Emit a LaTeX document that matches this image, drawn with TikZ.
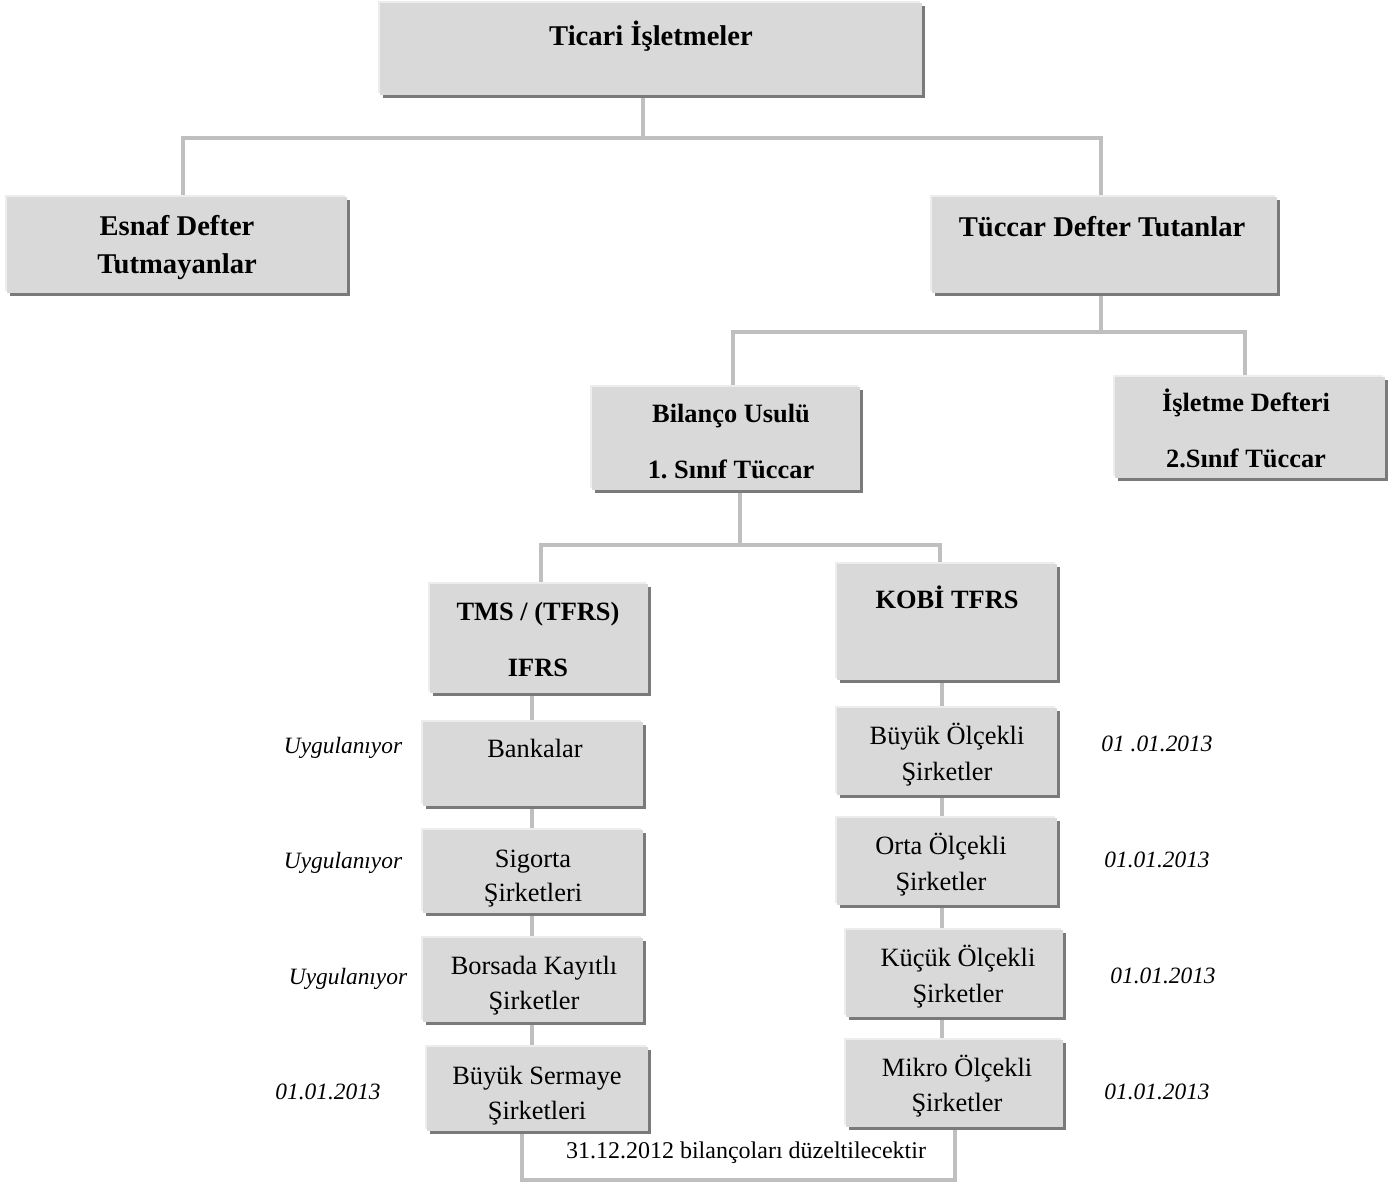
\documentclass[tikz,border=0pt]{standalone}
\usepackage{fontspec}
\setmainfont{Liberation Serif}
\usetikzlibrary{fit,shadows,backgrounds}
\frenchspacing

\definecolor{boxfill}{HTML}{D9D9D9}
\definecolor{boxshade}{HTML}{7A7A7A}
\definecolor{boxlight}{HTML}{EDEDED}
\definecolor{linkc}{HTML}{BFBFBF}

\tikzset{
  box/.style={fill=boxfill, inner sep=0pt, outer sep=0pt,
    general shadow={fill=boxshade, shadow xshift=1.6pt, shadow yshift=-1.6pt},
    general shadow={fill=boxlight, shadow xshift=-1pt, shadow yshift=1pt}},
  link/.style={draw=linkc, line width=2pt},
  txt/.style={inner sep=0pt, anchor=base},
  headtxt/.style={txt, font=\fontsize{14.3}{17}\selectfont\bfseries},
  subtxt/.style={txt, font=\fontsize{13.2}{16}\selectfont\bfseries},
  bodytxt/.style={txt, font=\fontsize{13.2}{16}\selectfont},
  notetxt/.style={txt, font=\fontsize{11.7}{14}\selectfont\itshape},
  foottxt/.style={txt, font=\fontsize{12}{14}\selectfont},
}

\begin{document}
\begin{tikzpicture}[x=0.5pt, y=-0.5pt]
\useasboundingbox (0,0) rectangle (1395,1185);

% --- boxes (top-left and bottom-right corners in px) ---
\node[box, fit={(380,3) (922,95)}] (ticari) {};
\node[box, fit={(7,197) (347,293)}] (esnaf) {};
\node[box, fit={(932,197) (1277,293)}] (tuccar) {};
\node[box, fit={(592,387) (860,490)}] (bilanco) {};
\node[box, fit={(1115,377) (1385,478)}] (isletme) {};
\node[box, fit={(430,584) (648,693)}] (tms) {};
\node[box, fit={(837,564) (1057,680)}] (kobi) {};
\node[box, fit={(423,722) (643,806)}] (banka) {};
\node[box, fit={(423,830) (643,913)}] (sigorta) {};
\node[box, fit={(423,938) (643,1022)}] (borsa) {};
\node[box, fit={(427,1047) (648,1131)}] (sermaye) {};
\node[box, fit={(837,708) (1057,795)}] (buyuk) {};
\node[box, fit={(837,818) (1057,905)}] (orta) {};
\node[box, fit={(846,930) (1063,1017)}] (kucuk) {};
\node[box, fit={(846,1040) (1063,1127)}] (mikro) {};

% --- junction points of the connectors ---
\coordinate (j1) at (643,138);
\coordinate (j2) at (1101,332);
\coordinate (j3) at (740,545);
\coordinate (colL) at (532,0);
\coordinate (colR) at (942,0);
\coordinate (foot) at (740,1180);

\begin{scope}[on background layer]
  \draw[link] (ticari.south -| j1) -- (j1);
  \draw[link] (esnaf.north -| 183,0) |- (j1) -| (tuccar.north -| 1101,0);
  \draw[link] (tuccar.south -| j2) -- (j2);
  \draw[link] (bilanco.north -| 733,0) |- (j2) -| (isletme.north -| 1245,0);
  \draw[link] (bilanco.south -| j3) -- (j3);
  \draw[link] (tms.north -| 541,0) |- (j3) -| (kobi.north -| 940,0);
  \draw[link] (tms.south -| colL) -- (banka.north -| colL);
  \draw[link] (banka.south -| colL) -- (sigorta.north -| colL);
  \draw[link] (sigorta.south -| colL) -- (borsa.north -| colL);
  \draw[link] (borsa.south -| colL) -- (sermaye.north -| colL);
  \draw[link] (kobi.south -| colR) -- (buyuk.north -| colR);
  \draw[link] (buyuk.south -| colR) -- (orta.north -| colR);
  \draw[link] (orta.south -| colR) -- (kucuk.north -| colR);
  \draw[link] (kucuk.south -| colR) -- (mikro.north -| colR);
  \draw[link] (sermaye.south -| 522,0) |- (foot) -| (mikro.south -| 955,0);
\end{scope}

% --- box texts ---
\node[headtxt] (t-ticari) at (651,45) {Ticari İşletmeler};
\node[headtxt] (t-esnaf1) at (177,235) {Esnaf Defter};
\node[headtxt] (t-esnaf2) at (177,273) {Tutmayanlar};
\node[headtxt] (t-tuccar) at (1102,236) {Tüccar Defter Tutanlar};
\node[subtxt] (t-bil1) at (731,422) {Bilanço Usulü};
\node[subtxt] (t-bil2) at (731,478) {1. Sınıf Tüccar};
\node[subtxt] (t-isl1) at (1246,411) {İşletme Defteri};
\node[subtxt] (t-isl2) at (1246,467) {2.Sınıf Tüccar};
\node[subtxt] (t-tms1) at (538,620) {TMS / (TFRS)};
\node[subtxt] (t-tms2) at (538,676) {IFRS};
\node[subtxt] (t-kobi) at (947,608) {KOBİ TFRS};

\node[bodytxt] (t-banka) at (535,757) {Bankalar};
\node[bodytxt] (t-sig1) at (533,867) {Sigorta};
\node[bodytxt] (t-sig2) at (533,901) {Şirketleri};
\node[bodytxt] (t-bor1) at (534,974) {Borsada Kayıtlı};
\node[bodytxt] (t-bor2) at (534,1009) {Şirketler};
\node[bodytxt] (t-ser1) at (537,1084) {Büyük Sermaye};
\node[bodytxt] (t-ser2) at (537,1119) {Şirketleri};
\node[bodytxt] (t-buy1) at (947,744) {Büyük Ölçekli};
\node[bodytxt] (t-buy2) at (947,780) {Şirketler};
\node[bodytxt] (t-ort1) at (941,854) {Orta Ölçekli};
\node[bodytxt] (t-ort2) at (941,890) {Şirketler};
\node[bodytxt] (t-kuc1) at (958,966) {Küçük Ölçekli};
\node[bodytxt] (t-kuc2) at (958,1002) {Şirketler};
\node[bodytxt] (t-mik1) at (957,1076) {Mikro Ölçekli};
\node[bodytxt] (t-mik2) at (957,1111) {Şirketler};

% --- side notes ---
\node[notetxt] (n-l1) at (343,753) {Uygulanıyor};
\node[notetxt] (n-l2) at (343,868) {Uygulanıyor};
\node[notetxt] (n-l3) at (348,984) {Uygulanıyor};
\node[notetxt] (n-l4) at (328,1099) {01.01.2013};
\node[notetxt] (n-r1) at (1157,751) {01 .01.2013};
\node[notetxt] (n-r2) at (1157,867) {01.01.2013};
\node[notetxt] (n-r3) at (1163,983) {01.01.2013};
\node[notetxt] (n-r4) at (1157,1099) {01.01.2013};

\node[foottxt] (t-foot) at (746,1158) {31.12.2012 bilançoları düzeltilecektir};
\end{tikzpicture}
\end{document}
